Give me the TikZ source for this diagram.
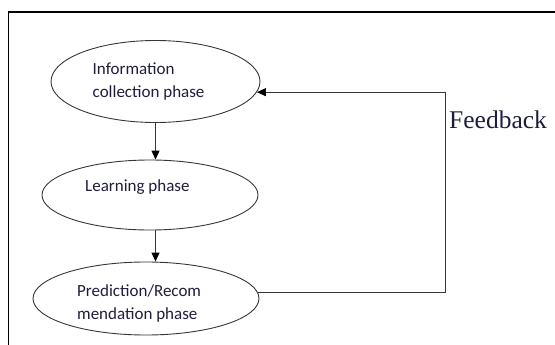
\documentclass[tikz,border=0pt]{standalone}
\usepackage{fontspec}
\setmainfont{Carlito}
\newfontfamily\fbfont{Liberation Serif}
\usetikzlibrary{shapes.geometric,arrows.meta}
\definecolor{txt}{RGB}{30,30,60}
\definecolor{ln}{RGB}{55,55,55}
\begin{document}
\begin{tikzpicture}[x=1pt,y=-1pt,
  phase/.style={draw=ln,line width=0.9pt,ellipse,inner sep=0pt},
  lbl/.style={anchor=west,align=left,text=txt,inner sep=0pt,font=\fontsize{17}{23}\selectfont},
  conn/.style={draw=ln,line width=1.1pt},
  arr/.style={conn,-{Triangle[length=9pt,width=8pt,color=black]}}]
\useasboundingbox (0,0) rectangle (555,345);
\draw[line width=1.2pt] (8.5,345) -- (8.5,12) -- (556,12);
\node[phase,minimum width=209pt,minimum height=82pt] (e1) at (155.5,81.5) {};
\node[phase,minimum width=216pt,minimum height=70pt] (e2) at (150,195) {};
\node[phase,minimum width=226pt,minimum height=73pt] (e3) at (146,298.5) {};
\node[lbl] (t1) at (92.5,81.5) {Information\\collection phase};
\node[lbl] (t2) at (85,187) {Learning phase};
\node[lbl] (t3) at (77,303.5) {Prediction/Recom\\mendation phase};
\draw[arr] (e1.south) -- (e1.south |- e2.north);
\draw[arr] (e1.south |- e2.south) -- (e1.south |- e3.north);
\coordinate (fb) at (445.5,200);
\draw[arr] (e3.3) -| (fb) |- (e1.-6);
\node[anchor=west,text=txt,inner sep=0pt,font=\fbfont\fontsize{25.5}{28}\selectfont] (lab) at (449,120) {Feedback};
\end{tikzpicture}
\end{document}
